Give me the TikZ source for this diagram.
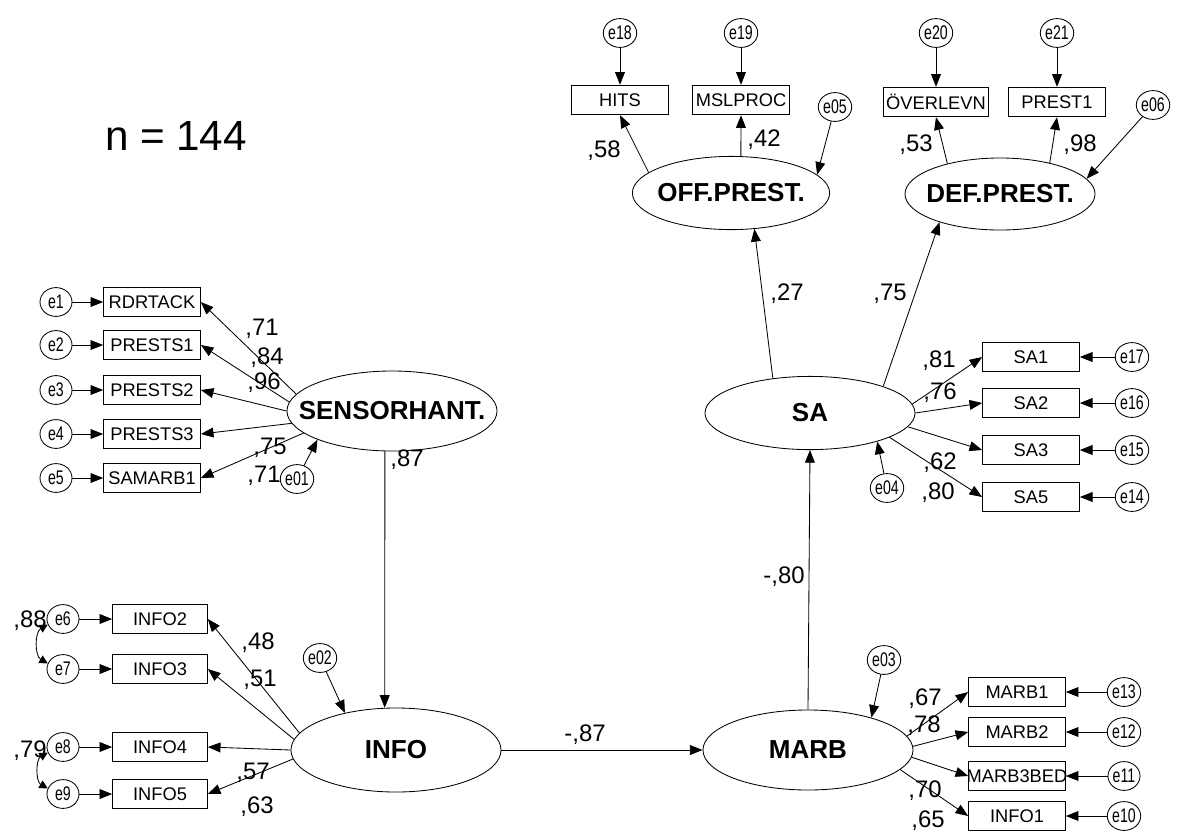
\documentclass[tikz,border=0pt]{standalone}
\usepackage{fontspec}
\setmainfont{Liberation Sans}
\usepackage{graphicx}
\usepackage{tikz}
\usetikzlibrary{shapes.geometric, arrows.meta, positioning}

% narrow error labels, as in the original output
\newcommand{\elab}[1]{\scalebox{0.72}[1]{#1}}

\begin{document}
\begin{tikzpicture}[x=0.025cm, y=-0.025cm,
      obs/.style={rectangle, draw, line width=0.6pt,
                  minimum width=2.42cm, minimum height=0.74cm, inner sep=0pt,
                  font=\fontsize{13}{14}\selectfont},
      lat/.style={ellipse, draw, line width=0.6pt,
                  minimum width=5.25cm, minimum height=2cm, inner sep=0pt,
                  font=\fontsize{18.5}{20}\selectfont\bfseries},
      err/.style={ellipse, draw, line width=0.6pt,
                  minimum width=0.8cm, minimum height=0.72cm, inner sep=0pt,
                  font=\fontsize{14}{15}\selectfont},
      arr/.style={-{Triangle[length=9pt, width=7pt]}, line width=0.6pt},
      cov/.style={{Triangle[length=6pt, width=6pt]}-{Triangle[length=6pt, width=6pt]},
                  line width=0.6pt},
      wt/.style={font=\fontsize{17}{18}\selectfont, inner sep=0pt}
    ]
    \useasboundingbox (0,0) rectangle (1179,831);

    % Sample size
    \node[font=\fontsize{30}{32}\selectfont] (nsize) at (176,136) {n = 144};

    % SENSORHANT. and its indicators
    \node[lat] (sens) at (392,411) {\makebox[0pt]{SENSORHANT.}};
    \foreach \i/\name/\y in {1/RDRTACK/302, 2/PRESTS1/345, 3/PRESTS2/390,
                             4/PRESTS3/434, 5/SAMARB1/478} {
      \node[obs] (sen\i) at (152,\y) {\name};
      \node[err] (e\i) at (56,\y) {\elab{e\i}};
      \draw[arr] (e\i) -- (sen\i);
    }
    \foreach \i/\a in {1/170, 2/175, 3/180, 4/187, 5/194}
      \draw[arr] (sens.\a) -- (sen\i.east);
    \node[err] (e01) at (297,479) {\elab{e01}};
    \draw[arr] (e01) -- (sens.201);
    \node[wt] (ws1) at (262,329) {,71};
    \node[wt] (ws2) at (267,358) {,84};
    \node[wt] (ws3) at (264,383) {,96};
    \node[wt] (ws4) at (270,448) {,75};
    \node[wt] (ws5) at (264,476) {,71};

    % INFO and its indicators
    \node[lat, minimum height=2.1cm] (info) at (396,750) {\makebox[0pt]{INFO}};
    \foreach \i/\e/\y in {2/6/619, 3/7/669, 4/8/747, 5/9/794} {
      \node[obs, minimum width=2.37cm] (inf\i) at (160,\y) {INFO\i};
      \node[err] (e\e) at (63,\y) {\elab{e\e}};
      \draw[arr] (e\e) -- (inf\i);
    }
    \foreach \i/\a in {2/170, 3/174, 4/180, 5/185}
      \draw[arr] (info.\a) -- (inf\i.east);
    \draw[cov] (e6.200) to[bend right=60] (e7.160);
    \draw[cov] (e8.200) to[bend right=60] (e9.160);
    \node[wt] (wc1) at (30,621) {,88};
    \node[wt] (wc2) at (30,751) {,79};
    \node[err] (e02) at (320,658) {\elab{e02}};
    \draw[arr] (e02) -- (info.144);
    \node[wt] (wi2) at (258,643) {,48};
    \node[wt] (wi3) at (260,680) {,51};
    \node[wt] (wi4) at (253,773) {,57};
    \node[wt] (wi5) at (257,807) {,63};

    % Structural paths
    \draw[arr] (sens.260) -- (info.105);
    \node[wt] (wsi) at (407,460) {,87};

    % MARB and its indicators
    \node[lat] (marb) at (808,750) {\makebox[0pt]{MARB}};
    \foreach \i/\name/\e/\y in {1/MARB1/13/692, 2/MARB2/12/732,
                                3/\makebox[0pt]{MARB3BED}/11/776, 4/INFO1/10/816} {
      \node[obs] (mb\i) at (1017,\y) {\name};
      \node[err] (e\e) at (1124,\y) {\elab{e\e}};
      \draw[arr] (e\e) -- (mb\i);
    }
    \foreach \i/\a in {1/8, 2/2, 3/356, 4/348}
      \draw[arr] (marb.\a) -- (mb\i.west);
    \node[err] (e03) at (884,660) {\elab{e03}};
    \draw[arr] (e03) -- (marb.27);
    \node[wt] (wm1) at (925,699) {,67};
    \node[wt] (wm2) at (924,726) {,78};
    \node[wt] (wm3) at (925,791) {,70};
    \node[wt] (wm4) at (928,821) {,65};

    \draw[arr] (info.east) -- (marb.west);
    \node[wt] (wim) at (585,735) {-,87};

    % SA and its indicators
    \node[lat, minimum height=1.83cm] (sa) at (810,413) {\makebox[0pt]{SA}};
    \foreach \i/\e/\y in {1/17/357, 2/16/403, 3/15/450, 5/14/497} {
      \node[obs] (sab\i) at (1031,\y) {SA\i};
      \node[err] (e\e) at (1132,\y) {\elab{e\e}};
      \draw[arr] (e\e) -- (sab\i);
    }
    \foreach \i/\a in {1/5, 2/0, 3/352, 5/343}
      \draw[arr] (sa.\a) -- (sab\i.west);
    \node[err] (e04) at (887,488) {\elab{e04}};
    \draw[arr] (e04) -- (sa.337);
    \node[wt] (wa1) at (939,361) {,81};
    \node[wt] (wa2) at (940,393) {,76};
    \node[wt] (wa3) at (940,463) {,62};
    \node[wt] (wa5) at (938,493) {,80};

    \draw[arr] (marb.north) -- (sa.south);
    \node[wt] (wms) at (784,577) {-,80};

    % OFF.PREST. and its indicators
    \node[lat, minimum width=4.93cm, minimum height=1.83cm]
          (off) at (731,193) {\makebox[0pt]{OFF.PREST.}};
    \node[obs] (hits) at (620,100) {HITS};
    \node[obs] (msl) at (741,100) {MSLPROC};
    \node[err] (e18) at (620,33) {\elab{e18}};
    \node[err] (e19) at (741,33) {\elab{e19}};
    \node[err] (e05) at (835,107) {\elab{e05}};
    \draw[arr] (e18) -- (hits);
    \draw[arr] (e19) -- (msl);
    \draw[arr] (off.166) -- (hits.south);
    \draw[arr] (off.75) -- (msl.south);
    \draw[arr] (e05) -- (off.12);
    \node[wt] (wo1) at (604,151) {,58};
    \node[wt] (wo2) at (764,140) {,42};

    % DEF.PREST. and its indicators
    \node[lat, minimum width=4.75cm, minimum height=1.8cm]
          (def) at (1000,194) {\makebox[0pt]{DEF.PREST.}};
    \node[obs, minimum width=2.62cm] (over) at (936,102) {ÖVERLEVN};
    \node[obs] (prest) at (1057,102) {PREST1};
    \node[err] (e20) at (936,33) {\elab{e20}};
    \node[err] (e21) at (1057,33) {\elab{e21}};
    \node[err] (e06) at (1153,105) {\elab{e06}};
    \draw[arr] (e20) -- (over);
    \draw[arr] (e21) -- (prest);
    \draw[arr] (def.150) -- (over.south);
    \draw[arr] (def.32) -- (prest.south);
    \draw[arr] (e06) -- (def.10);
    \node[wt] (wd1) at (916,145) {,53};
    \node[wt] (wd2) at (1080,145) {,98};

    % SA to the performance factors
    \draw[arr] (sa.137) -- (off.303);
    \draw[arr] (sa.20) -- (def.205);
    \node[wt] (wso) at (787,294) {,27};
    \node[wt] (wsd) at (890,294) {,75};
  \end{tikzpicture}
\end{document}
